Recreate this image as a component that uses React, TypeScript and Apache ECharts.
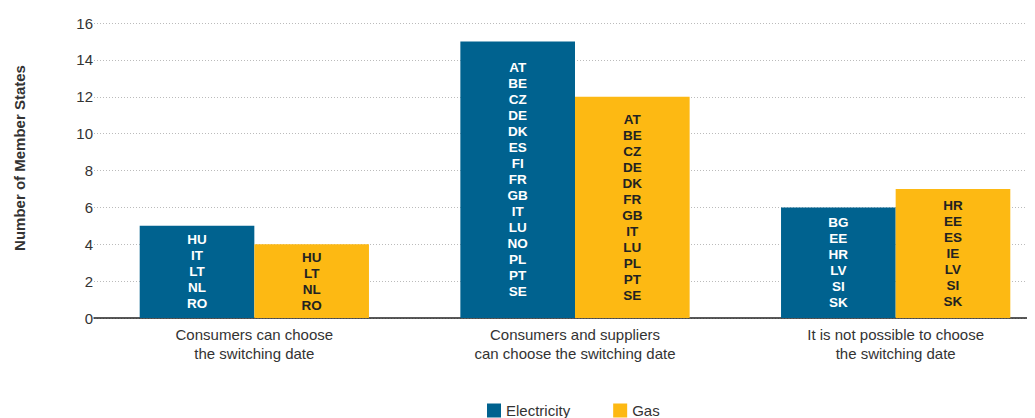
import React, { useEffect, useRef } from "react";
import * as echarts from "echarts";

const categories = [
  "Consumers can choose\nthe switching date",
  "Consumers and suppliers\ncan choose the switching date",
  "It is not possible to choose\nthe switching date",
];
const electricityValues = [5, 15, 6];
const gasValues = [4, 12, 7];
const electricityCountries = [
  ["HU", "IT", "LT", "NL", "RO"],
  ["AT", "BE", "CZ", "DE", "DK", "ES", "FI", "FR", "GB", "IT", "LU", "NO", "PL", "PT", "SE"],
  ["BG", "EE", "HR", "LV", "SI", "SK"],
];
const gasCountries = [
  ["HU", "LT", "NL", "RO"],
  ["AT", "BE", "CZ", "DE", "DK", "FR", "GB", "IT", "LU", "PL", "PT", "SE"],
  ["HR", "EE", "ES", "IE", "LV", "SI", "SK"],
];
const yTicks = [0, 2, 4, 6, 8, 10, 12, 14, 16];
const yAxisTitle = "Number of Member States";

const FONT = "'Liberation Sans', Arial, sans-serif";
const ELEC = "#00628F";
const GAS = "#FDB913";

export default function App() {
  const ref = useRef<HTMLDivElement>(null);
  useEffect(() => {
    if (!ref.current) return;
    const chart = echarts.init(ref.current, null, { renderer: "svg" });
    chart.setOption({
      animation: false,
      textStyle: { fontFamily: FONT },
      grid: { left: 86, top: 15, width: 962, height: 295, containLabel: false },
      legend: {
        data: ["Electricity", "Gas"],
        left: 474,
        top: 390,
        itemWidth: 14,
        itemHeight: 14,
        itemGap: 43,
        icon: "rect",
        textStyle: { fontFamily: FONT, fontSize: 15, color: "#333" },
      },
      graphic: [
        {
          type: "text",
          x: 11,
          y: 150,
          rotation: Math.PI / 2,
          style: {
            text: yAxisTitle,
            fontFamily: FONT,
            fontSize: 15,
            fontWeight: "bold",
            fill: "#333",
            align: "center",
            verticalAlign: "middle",
          },
        },
      ],
      xAxis: {
        type: "category",
        data: categories,
        axisLine: { lineStyle: { color: "#222", width: 1.5 } },
        axisTick: { show: false },
        axisLabel: {
          fontFamily: FONT,
          fontSize: 15,
          lineHeight: 19,
          color: "#333",
          margin: 7,
          interval: 0,
        },
      },
      yAxis: {
        type: "value",
        min: 0,
        max: 16,
        interval: 2,
        axisLine: { show: false },
        axisTick: { show: false },
        axisLabel: {
          fontFamily: FONT,
          fontSize: 15,
          color: "#333",
          margin: 1,
          formatter: (v: number) => (yTicks.includes(v) ? String(v) : ""),
        },
        splitLine: { lineStyle: { color: "#bbb", type: [1, 2], width: 1 } },
      },
      series: [
        {
          name: "Electricity",
          type: "bar",
          data: electricityValues.map((v, i) => ({
            value: v,
            label: { formatter: electricityCountries[i].join("\n") },
          })),
          itemStyle: { color: ELEC },
          barGap: "0%",
          barCategoryGap: "28.5%",
          label: {
            show: true,
            position: "inside",
            color: "#fff",
            fontFamily: FONT,
            fontWeight: "bold",
            fontSize: 13.5,
            lineHeight: 16,
          },
        },
        {
          name: "Gas",
          type: "bar",
          data: gasValues.map((v, i) => ({
            value: v,
            label: { formatter: gasCountries[i].join("\n") },
          })),
          itemStyle: { color: GAS },
          barGap: "0%",
          barCategoryGap: "28.5%",
          label: {
            show: true,
            position: "inside",
            color: "#222",
            fontFamily: FONT,
            fontWeight: "bold",
            fontSize: 13.5,
            lineHeight: 16,
          },
        },
      ],
    });
    return () => chart.dispose();
  }, []);
  return (
    <div style={{ width: 1027, height: 410, overflow: "hidden", position: "relative" }}>
      <div ref={ref} style={{ width: 1080, height: 410 }} />
    </div>
  );
}
